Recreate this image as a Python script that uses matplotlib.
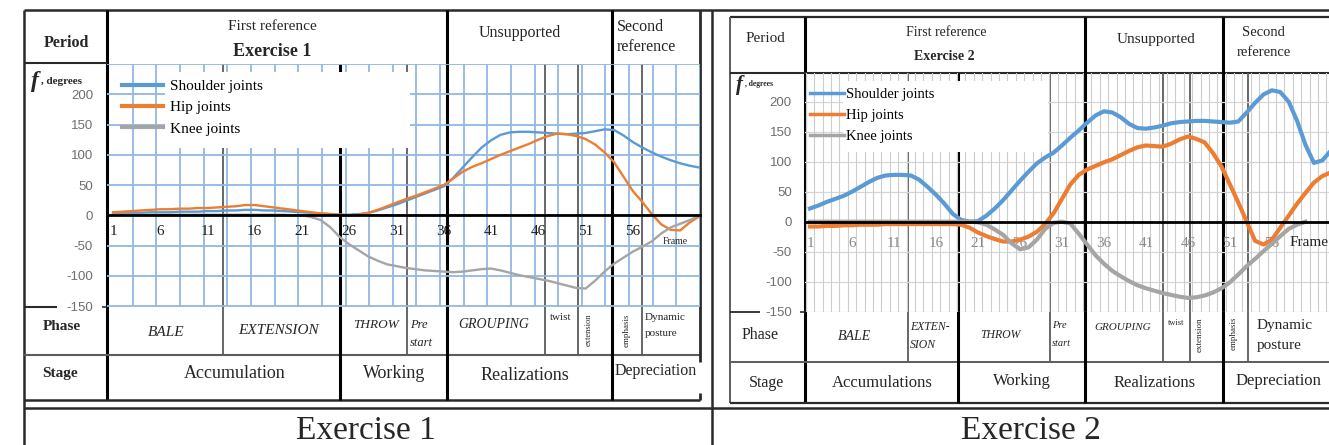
import matplotlib
matplotlib.use("Agg")
import matplotlib.pyplot as plt
from matplotlib.patches import Rectangle
from matplotlib.lines import Line2D

# ---------------- data: joint angles (degrees) per video frame ----------------
ex1_frames = list(range(1, 64))
ex1_shoulder = [3, 3, 4, 4, 5, 5, 5, 6, 6, 6,
                7, 7, 8, 8, 9, 9, 8, 8, 7, 6,
                5, 4, 3, 2, 1, 1, 2, 4, 8, 13,
                18, 24, 30, 36, 42, 48, 62, 79, 96, 112,
                124, 133, 137, 138, 138, 137, 136, 135, 134, 135,
                136, 139, 142, 141, 132, 121, 112, 104, 97, 91,
                86, 82, 79]
ex1_hip = [5, 6, 7, 8, 9, 10, 10, 11, 11, 12,
           12, 13, 14, 15, 17, 17, 15, 13, 11, 9,
           7, 5, 3, 2, 1, 0, 1, 4, 9, 15,
           21, 27, 32, 38, 44, 50, 61, 72, 80, 86,
           93, 100, 106, 112, 118, 125, 131, 135, 134, 131,
           126, 117, 104, 88, 64, 40, 22, 2, -15, -24,
           -25, -12, -2]
ex1_knee = [1, 1, 1, 1, 1, 1, 1, 1, 1, 1,
            1, 1, 1, 1, 1, 1, 1, 1, 1, 0,
            0, -3, -8, -20, -36, -48, -58, -68, -75, -81,
            -84, -87, -89, -91, -92, -93, -94, -93, -91, -89,
            -88, -91, -95, -99, -102, -105, -108, -112, -116, -120,
            -121, -108, -93, -80, -70, -60, -52, -43, -30, -20,
            -14, -8, -1]

ex2_frames = list(range(1, 64))
ex2_shoulder = [22, 27, 33, 38, 43, 50, 58, 66, 73, 77,
                78, 78, 77, 70, 58, 45, 30, 13, 3, 0,
                1, 10, 22, 36, 52, 68, 83, 97, 107, 115,
                127, 140, 152, 165, 177, 184, 182, 174, 163, 156,
                155, 157, 160, 164, 166, 167, 168, 168, 167, 166,
                165, 167, 182, 198, 212, 219, 216, 200, 168, 128,
                98, 102, 118]
ex2_hip = [-8, -8, -7, -7, -6, -6, -5, -5, -5, -4,
           -4, -4, -4, -4, -4, -4, -4, -4, -5, -10,
           -18, -24, -29, -33, -33, -30, -25, -17, -4, 14,
           38, 62, 78, 87, 93, 99, 104, 111, 118, 124,
           127, 126, 125, 130, 137, 142, 138, 132, 114, 92,
           62, 32, 0, -32, -38, -30, -10, 10, 30, 48,
           65, 76, 82]
ex2_knee_frames = list(range(1, 61))
ex2_knee = [0, 0, 0, 0, 0, 0, 0, 0, 0, 0,
            0, 0, 0, 0, 0, 0, 0, 0, 0, 0,
            -1, -5, -13, -22, -36, -46, -43, -30, -12, -2,
            0, -3, -20, -38, -56, -70, -82, -91, -99, -106,
            -111, -115, -119, -122, -125, -127, -126, -123, -118, -111,
            -101, -88, -74, -62, -49, -37, -24, -12, -5, 0]

series_names = ["Shoulder joints", "Hip joints", "Knee joints"]
series_colors = ["#5B9BD5", "#ED7D31", "#A5A5A5"]
frame_ticks = [1, 6, 11, 16, 21, 26, 31, 36, 41, 46, 51, 56]
y_ticks = [-150, -100, -50, 0, 50, 100, 150, 200]

# ---------------- figure & pixel-space canvas for the table ----------------
W, H = 1329, 445
SERIF = ["Liberation Serif", "DejaVu Serif"]
plt.rcParams["font.family"] = SERIF

fig = plt.figure(figsize=(W / 100, H / 100), dpi=100)
fig.patch.set_facecolor("white")
bg = fig.add_axes([0, 0, 1, 1])
bg.set_xlim(0, W)
bg.set_ylim(H, 0)
bg.axis("off")

DARK = "#2a2a2a"
MID = "#5c5c5c"
INK = "#262626"


def hl(y, x0, x1, lw=1.4, c=MID):
    bg.add_line(Line2D([x0, x1], [y, y], color=c, lw=lw, solid_capstyle="butt"))


def vl(x, y0, y1, lw=1.3, c=MID):
    bg.add_line(Line2D([x, x], [y0, y1], color=c, lw=lw, solid_capstyle="butt"))


def txt(x, y, s, size=11, ha="center", va="center", color=INK, **kw):
    bg.text(x, y, s, fontsize=size, ha=ha, va=va, color=color, **kw)


# outer frame shared by both panels
hl(10, 24, W, lw=1.8, c=DARK)
vl(24, 10, H, lw=1.8, c=DARK)
vl(712, 10, H, lw=1.8, c=DARK)
hl(408, 24, W, lw=1.8, c=DARK)

# ---- Exercise 1 table ----
vl(107, 10, 400, lw=2.2, c="black")
hl(63, 24, 107, lw=1.5, c=DARK)
hl(307, 24, 57, lw=1.5, c=DARK)
hl(307, 102, 107, lw=1.2, c=DARK)
hl(355, 24, 700, lw=1.5, c=MID)
hl(400, 24, 700, lw=1.8, c=DARK)
for x, y0 in [(340, 64), (447, 10), (612, 10)]:
    vl(x, y0, 400, lw=2.2, c="black")
vl(700, 10, 362, lw=2.0, c=DARK)
vl(700, 393, 400, lw=2.0, c=DARK)
for x in [223, 407, 545, 578, 642]:
    vl(x, 64, 355, lw=1.3, c=MID)

txt(66, 43, "Period", size=11.5, weight="bold")
txt(272, 27, "First reference", size=11)
txt(272, 51, "Exercise 1", size=13, weight="bold")
txt(520, 33, "Unsupported", size=11.5)
txt(617, 27, "Second", size=11.5, ha="left")
txt(617, 47, "reference", size=11.5, ha="left")
txt(31, 81, "f", size=17, style="italic", weight="bold", ha="left")
txt(41, 82, ", degrees", size=8, weight="bold", ha="left")

txt(62, 327, "Phase", size=11, weight="bold")
txt(60, 374, "Stage", size=11, weight="bold")
txt(166, 333, "BALE", size=11, style="italic")
txt(278, 330, "EXTENSION", size=11, style="italic")
txt(376, 325, "THROW", size=9.5, style="italic")
txt(410, 325, "Pre", size=9, style="italic", ha="left")
txt(410, 343, "start", size=9, style="italic", ha="left")
txt(494, 324, "GROUPING", size=10, style="italic")
txt(561, 318, "twist", size=8)
txt(589, 330, "extension", size=6, rotation=90)
txt(627, 330, "emphasis", size=6.5, rotation=90)
txt(645, 318, "Dynamic", size=8, ha="left")
txt(645, 333, "posture", size=8, ha="left")
txt(235, 373, "Accumulation", size=13)
txt(394, 373, "Working", size=13)
txt(525, 375, "Realizations", size=13)
txt(656, 371, "Depreciation", size=11.5)
txt(366, 439, "Exercise 1", size=24, va="baseline")

# ---- Exercise 2 table ----
hl(17, 730, W, lw=1.6, c=DARK)
vl(730, 17, 403, lw=1.4, c=MID)
vl(805, 17, 403, lw=2.2, c="black")
hl(73, 730, W, lw=1.5, c=DARK)
hl(312, 730, 760, lw=1.3, c=DARK)
hl(312, 800, 805, lw=1.2, c=DARK)
hl(362, 730, W, lw=1.4, c=MID)
hl(403, 730, W, lw=1.6, c=DARK)
for x, y0 in [(958, 73), (1085, 17), (1223, 17)]:
    vl(x, y0, 403, lw=2.2, c="black")
for x in [908, 1050, 1163, 1190, 1248]:
    vl(x, 73, 362, lw=1.3, c=MID)

txt(765, 39, "Period", size=11)
txt(946, 33, "First reference", size=10)
txt(944, 57, "Exercise 2", size=10, weight="bold")
txt(1156, 40, "Unsupported", size=11)
txt(1263, 32, "Second", size=10.5)
txt(1264, 52, "reference", size=10.5)
txt(736, 85, "f", size=15, style="italic", weight="bold", ha="left")
txt(745, 84, ", degrees", size=5.5, weight="bold", ha="left")

txt(760, 335, "Phase", size=11.5)
txt(766, 383, "Stage", size=11.5)
txt(854, 336, "BALE", size=10, style="italic")
txt(910, 327, "EXTEN-", size=8.5, style="italic", ha="left")
txt(910, 345, "SION", size=8.5, style="italic", ha="left")
txt(1000, 335, "THROW", size=8.5, style="italic")
txt(1052, 325, "Pre", size=7.5, style="italic", ha="left")
txt(1052, 344, "start", size=7.5, style="italic", ha="left")
txt(1123, 327, "GROUPING", size=8, style="italic")
txt(1176, 323, "twist", size=6)
txt(1200, 335, "extension", size=6.5, rotation=90)
txt(1234, 333, "emphasis", size=6.5, rotation=90)
txt(1257, 325, "Dynamic", size=11, ha="left")
txt(1257, 345, "posture", size=11, ha="left")
txt(882, 383, "Accumulations", size=12)
txt(1022, 381, "Working", size=12)
txt(1155, 383, "Realizations", size=12)
txt(1278, 381, "Depreciation", size=12)
txt(1031, 439, "Exercise 2", size=24, va="baseline")


# ---------------- the two line charts ----------------
def make_chart(box, xlim, ylim, tick_pad_x, tick_pad_y, xcolor):
    x0, y0, x1, y1 = box
    ax = fig.add_axes([x0 / W, 1 - y1 / H, (x1 - x0) / W, (y1 - y0) / H])
    ax.set_facecolor("none")
    ax.set_xlim(*xlim)
    ax.set_ylim(*ylim)
    for s in ("top", "right", "left"):
        ax.spines[s].set_visible(False)
    sp = ax.spines["bottom"]
    sp.set_position(("data", 0))
    sp.set_color("black")
    sp.set_linewidth(2.0)
    sp.set_zorder(3)
    ax.set_xticks(frame_ticks)
    ax.set_xticklabels([str(t) for t in frame_ticks], family=SERIF)
    ax.tick_params(axis="x", length=0, pad=tick_pad_x, labelsize=11, labelcolor=xcolor)
    ax.set_yticks(y_ticks)
    ax.set_yticklabels([str(t) for t in y_ticks], family=["Liberation Sans", "DejaVu Sans"])
    ax.tick_params(axis="y", length=0, pad=tick_pad_y, labelsize=9.5, labelcolor="#6e6e6e")
    return ax


# Exercise 1
ax1 = make_chart((107, 64, 700, 307), (0.365, 63.1), (-151.5, 250), 7, 10, "#1e1e1e")
for v in [-150, -100, -50, 0, 50, 100, 150, 200, 250]:
    ax1.axhline(v, color="#93B8E2", lw=1.3, zorder=0.5)
for k in range(25):
    ax1.axvline(3.1 + 2.5 * k, color="#93B8E2", lw=1.3, zorder=0.5)
ax1.add_patch(Rectangle((165, 72), 245, 76, transform=bg.transData,
                        facecolor="white", edgecolor="none", zorder=1))
for vals, col, name in zip([ex1_shoulder, ex1_hip, ex1_knee], series_colors, series_names):
    ax1.plot(ex1_frames, vals, color=col, lw=1.7, label=name, zorder=2)
leg1 = ax1.legend(loc="upper left", bbox_to_anchor=(0.0253, 0.937), frameon=False,
                  fontsize=11, handlelength=2.7, handletextpad=0.45,
                  labelspacing=0.5, borderaxespad=0, borderpad=0)
for h in leg1.get_lines():
    h.set_linewidth(3)
ax1.text(663, 241, "Frame", transform=bg.transData, fontsize=7, ha="left", va="center", color=INK)

# Exercise 2
ax2 = make_chart((805, 73, W, 312), (0.405, 62.8), (-150.5, 247.8), 11, 9.5, "#8a8a8a")
for v in [-150, -100, -50, 0, 50, 100, 150, 200]:
    ax2.axhline(v, color="#d6d6d6", lw=0.9, zorder=0.5)
for f in range(63):
    ax2.axvline(f + 0.5, color="#cdcdcd", lw=0.8, zorder=0.5)
ax2.add_patch(Rectangle((843, 81), 205, 71, transform=bg.transData,
                        facecolor="white", edgecolor="none", zorder=1))
ax2.plot(ex2_frames, ex2_shoulder, color=series_colors[0], lw=3, label=series_names[0], zorder=2)
ax2.plot(ex2_frames, ex2_hip, color=series_colors[1], lw=3, label=series_names[1], zorder=2)
ax2.plot(ex2_knee_frames, ex2_knee, color=series_colors[2], lw=3, label=series_names[2], zorder=2)
leg2 = ax2.legend(loc="upper left", bbox_to_anchor=(0.0095, 0.939), frameon=False,
                  fontsize=10.5, handlelength=2.3, handletextpad=0.15,
                  labelspacing=0.55, borderaxespad=0, borderpad=0)
for h in leg2.get_lines():
    h.set_linewidth(2.5)
ax2.text(1290, 242, "Frame", transform=bg.transData, fontsize=11, ha="left", va="center", color=INK)

fig.savefig("out.png", dpi=100, facecolor="white")
